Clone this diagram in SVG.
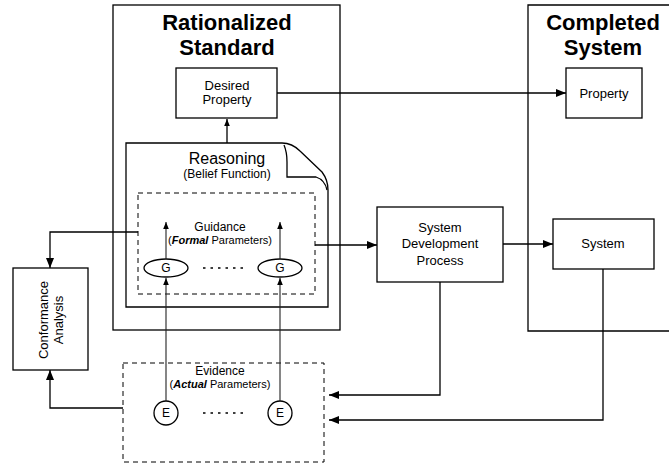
<svg xmlns="http://www.w3.org/2000/svg" width="669" height="465" viewBox="0 0 669 465">
<defs>
<marker id="ah" viewBox="0 0 10 10" refX="10" refY="5" markerWidth="11" markerHeight="10" markerUnits="userSpaceOnUse" orient="auto">
<path d="M0,1 L10,5 L0,9 Z" fill="#000"/>
</marker>
<marker id="as" viewBox="0 0 10 10" refX="10" refY="5" markerWidth="8" markerHeight="7" markerUnits="userSpaceOnUse" orient="auto">
<path d="M0,1 L10,5 L0,9 Z" fill="#000"/>
</marker>
</defs>
<style>
.box{fill:#fff;stroke:#000;stroke-width:1.3}
.open{fill:none;stroke:#000;stroke-width:1.3}
.dash{fill:none;stroke:#000;stroke-width:1;stroke-dasharray:5,4}
.ln{fill:none;stroke:#000;stroke-width:1.3}
.thin{fill:none;stroke:#222;stroke-width:1.1}
text{font-family:"Liberation Sans",Arial,sans-serif;fill:#000;text-anchor:middle}
.h{font-size:22px;font-weight:bold}
.t{font-size:13px}
.s{font-size:12px}
.p{font-size:11px}
.m{font-size:16px}
</style>
<g id="rationalized-standard">
<rect class="open" x="113" y="5" width="227" height="325"/>
<text class="h" x="227" y="30">Rationalized</text>
<text class="h" x="227" y="55">Standard</text>
</g>
<g id="completed-system">
<path class="open" d="M672,5 L528,5 L528,331 L672,331"/>
<text class="h" x="603" y="30">Completed</text>
<text class="h" x="603" y="55">System</text>
</g>
<g id="desired-property">
<rect class="box" x="176" y="68" width="101" height="50"/>
<text class="t" x="227" y="90">Desired</text>
<text class="t" x="227" y="104">Property</text>
</g>
<g id="property">
<rect class="box" x="566" y="68" width="76" height="50"/>
<text class="t" x="604" y="98">Property</text>
</g>
<g id="reasoning">
<path class="box" d="M126,143 L282,143 Q292,143 300,151 L322,172 Q328,180 328,190 L328,307 L126,307 Z"/>
<path class="open" stroke-width="1" d="M284,145 Q287,152 287,162 L287,177 L316,177 Q325,180 327,190"/>
<text class="m" x="227" y="164">Reasoning</text>
<text class="s" font-size="12.5px" x="227" y="178">(Belief Function)</text>
</g>
<g id="guidance">
<rect class="dash" x="138" y="193" width="177" height="101"/>
<text class="s" x="220" y="231">Guidance</text>
<text class="p" x="220" y="244">(<tspan font-weight="bold" font-style="italic">Formal</tspan> Parameters)</text>
</g>
<g id="g1">
<ellipse class="box" cx="166" cy="268" rx="22" ry="9"/>
<text class="s" x="166" y="272">G</text>
</g>
<g id="g2">
<ellipse class="box" cx="280" cy="268" rx="22" ry="9"/>
<text class="s" x="280" y="272">G</text>
</g>
<g id="conformance-analysis">
<rect class="box" x="13" y="268" width="75" height="102"/>
<text class="t" font-size="13.5px" transform="translate(48,320) rotate(-90)" x="0" y="0">Conformance</text>
<text class="t" font-size="13.5px" transform="translate(63,320) rotate(-90)" x="0" y="0">Analysis</text>
</g>
<g id="evidence">
<rect class="dash" x="123" y="363" width="201" height="99"/>
<text class="s" x="220" y="375">Evidence</text>
<text class="p" x="220" y="388">(<tspan font-weight="bold" font-style="italic">Actual</tspan> Parameters)</text>
</g>
<g id="e1">
<circle class="box" cx="166" cy="413" r="12"/>
<text class="s" x="166" y="417">E</text>
</g>
<g id="e2">
<circle class="box" cx="280" cy="413" r="12"/>
<text class="s" x="280" y="417">E</text>
</g>
<g id="system-development-process">
<rect class="box" x="377" y="207" width="126" height="75"/>
<text class="t" x="440" y="232">System</text>
<text class="t" x="440" y="248">Development</text>
<text class="t" x="440" y="265">Process</text>
</g>
<g id="system">
<rect class="box" x="553" y="219" width="101" height="50"/>
<text class="t" x="603" y="248">System</text>
</g>
<g id="connectors">
<line class="ln" x1="227" y1="143" x2="227" y2="119" marker-end="url(#as)"/>
<line class="ln" x1="277" y1="93" x2="566" y2="93" marker-end="url(#ah)"/>
<line class="thin" x1="166" y1="259" x2="166" y2="222" marker-end="url(#as)"/>
<line class="thin" x1="280" y1="259" x2="280" y2="222" marker-end="url(#as)"/>
<line class="thin" x1="166" y1="401" x2="166" y2="278" marker-end="url(#as)"/>
<line class="thin" x1="280" y1="401" x2="280" y2="278" marker-end="url(#as)"/>
<line class="ln" stroke-width="1.5" stroke-dasharray="2.5,5" x1="203" y1="268" x2="248" y2="268"/>
<line class="ln" stroke-width="1.5" stroke-dasharray="2.5,5" x1="203" y1="413" x2="248" y2="413"/>
<polyline class="ln" points="138,232 50,232 50,268" marker-end="url(#ah)"/>
<polyline class="ln" points="123,408 50,408 50,370" marker-end="url(#ah)"/>
<line class="ln" x1="315" y1="245" x2="377" y2="245" marker-end="url(#ah)"/>
<line class="ln" x1="503" y1="244" x2="553" y2="244" marker-end="url(#ah)"/>
<polyline class="ln" points="440,282 440,395 329,395" marker-end="url(#ah)"/>
<polyline class="ln" points="603,269 603,420 329,420" marker-end="url(#ah)"/>
</g>
</svg>
